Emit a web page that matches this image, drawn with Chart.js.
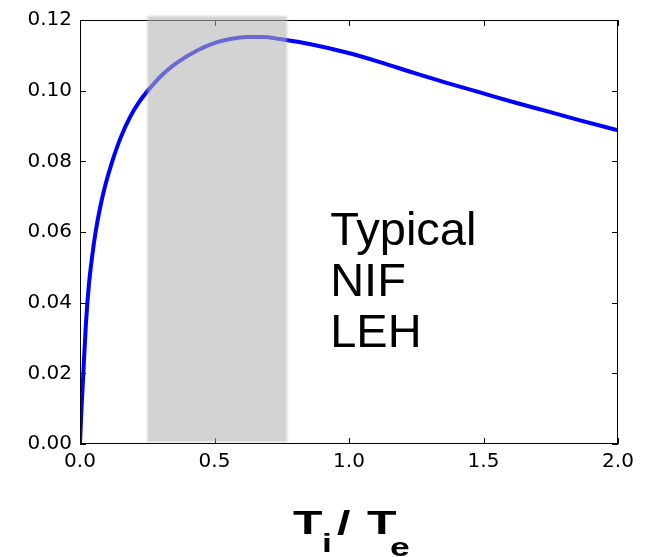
<!DOCTYPE html>
<html>
<head>
<meta charset="utf-8">
<script src="https://cdn.jsdelivr.net/npm/chart.js@4.4.1/dist/chart.umd.min.js"></script>
<style>
  html, body { margin: 0; padding: 0; background: #fff; }
  #wrap { width: 650px; height: 557px; position: relative; }
</style>
</head>
<body>
<div id="wrap"><canvas id="chart" width="650" height="557"></canvas></div>
<script>
// curve
const ratio = [0, 0.005, 0.011, 0.022, 0.033, 0.045, 0.058, 0.075, 0.095, 0.12, 0.15, 0.186, 0.22, 0.25, 0.31, 0.372, 0.434, 0.496, 0.558, 0.62, 0.68, 0.743, 0.866, 0.991, 1.115, 1.238, 1.363, 1.487, 1.61, 1.735, 1.859, 2.0];
const value = [0, 0.009, 0.018, 0.034, 0.045, 0.053, 0.060, 0.067, 0.0735, 0.080, 0.0865, 0.0925, 0.0968, 0.0998, 0.1048, 0.1085, 0.1113, 0.1134, 0.1146, 0.1152, 0.1152, 0.1146, 0.1130, 0.1108, 0.1081, 0.1051, 0.1022, 0.0995, 0.0968, 0.0942, 0.0916, 0.0888];

const xTicks = [0, 0.5, 1.0, 1.5, 2.0];
const yTicks = [0, 0.02, 0.04, 0.06, 0.08, 0.10, 0.12];

const band = [0.25, 0.77];
const noteLines = ["Typical", "NIF", "LEH"];

const points = ratio.map((r, i) => ({ x: r, y: value[i] }));

// matplotlib-ish box with inward ticks
const boxPlugin = {
  id: "box",
  afterDatasetsDraw(chart) {
    const { ctx, chartArea: a, scales } = chart;
    ctx.save();
    ctx.strokeStyle = "#000";
    ctx.lineWidth = 1;
    ctx.strokeRect(a.left + 0.5, a.top + 0.5, a.right - a.left - 1, a.bottom - a.top - 1);
    ctx.beginPath();
    xTicks.forEach(t => {
      const px = Math.round(scales.x.getPixelForValue(t)) + 0.5;
      ctx.moveTo(px, a.bottom); ctx.lineTo(px, a.bottom - 6);
      ctx.moveTo(px, a.top); ctx.lineTo(px, a.top + 6);
    });
    yTicks.forEach(t => {
      const py = Math.round(scales.y.getPixelForValue(t)) + 0.5;
      ctx.moveTo(a.left, py); ctx.lineTo(a.left + 6, py);
      ctx.moveTo(a.right, py); ctx.lineTo(a.right - 6, py);
    });
    ctx.stroke();

    // note text
    ctx.fillStyle = "#000";
    ctx.font = "47px 'Liberation Sans', Arial, sans-serif";
    ctx.textAlign = "left";
    ctx.textBaseline = "alphabetic";
    const tx = scales.x.getPixelForValue(0.93);
    const ty = scales.y.getPixelForValue(0.0563);
    noteLines.forEach((s, i) => ctx.fillText(s, tx, ty + i * 51));
    ctx.restore();
  },
  afterDraw(chart) {
    const { ctx, chartArea: a, scales } = chart;
    const x0 = scales.x.getPixelForValue(band[0]);
    const x1 = scales.x.getPixelForValue(band[1]);
    ctx.save();
    ctx.filter = "blur(1.2px)";
    ctx.fillStyle = "rgba(180,180,180,0.59)";
    ctx.fillRect(x0, a.top - 4, x1 - x0, a.bottom - a.top + 2);
    ctx.restore();

    // x title T_i / T_e (stretched wide like the original)
    ctx.save();
    ctx.fillStyle = "#000";
    ctx.textBaseline = "alphabetic";
    ctx.textAlign = "left";
    const big = "bold 34px 'Liberation Sans', Arial, sans-serif";
    const small = "bold 25px 'Liberation Sans', Arial, sans-serif";
    const cx = (a.left + a.right) / 2;
    const parts = [
      { s: "T", f: big, dx: -56, y: 534 },
      { s: "i", f: small, dx: -27, y: 552 },
      { s: "/", f: big, dx: -12, y: 534 },
      { s: "T", f: big, dx: 18, y: 534 },
      { s: "e", f: small, dx: 41, y: 556 }
    ];
    parts.forEach(p => {
      ctx.save();
      ctx.translate(cx + p.dx, p.y);
      ctx.scale(1.42, 1);
      ctx.font = p.f;
      ctx.fillText(p.s, 0, 0);
      ctx.restore();
    });
    ctx.restore();
  }
};

new Chart(document.getElementById("chart"), {
  type: "line",
  data: {
    datasets: [{
      data: points,
      borderColor: "#0000ff",
      borderWidth: 4,
      pointRadius: 0,
      fill: false,
      cubicInterpolationMode: "monotone"
    }]
  },
  options: {
    responsive: false,
    animation: false,
    layout: { padding: { top: 20, right: 32, left: 0, bottom: 0 } },
    plugins: { legend: { display: false }, tooltip: { enabled: false } },
    scales: {
      x: {
        type: "linear",
        min: 0, max: 2,
        afterBuildTicks: s => { s.ticks = xTicks.map(v => ({ value: v })); },
        afterFit: s => { s.height = 113; },
        grid: { display: false, drawTicks: false },
        border: { display: false },
        ticks: {
          padding: 6,
          color: "#000",
          font: { family: "'DejaVu Sans'", size: 20 },
          callback: v => v.toFixed(1),
          maxRotation: 0
        }
      },
      y: {
        min: 0, max: 0.12,
        afterBuildTicks: s => { s.ticks = yTicks.map(v => ({ value: v })); },
        afterFit: s => { s.width = 80; },
        grid: { display: false, drawTicks: false },
        border: { display: false },
        ticks: {
          padding: 8,
          color: "#000",
          font: { family: "'DejaVu Sans'", size: 20 },
          callback: v => v.toFixed(2)
        }
      }
    }
  },
  plugins: [boxPlugin]
});
</script>
</body>
</html>
